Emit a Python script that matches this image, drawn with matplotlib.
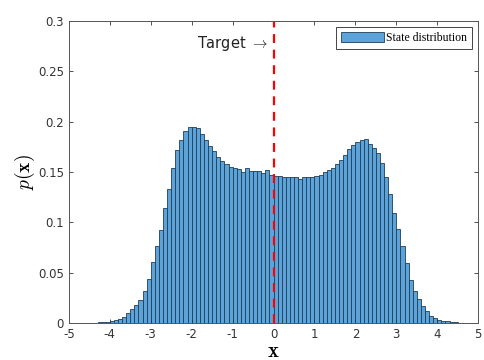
import numpy as np
import matplotlib
matplotlib.use("Agg")
import matplotlib.pyplot as plt

plt.rcParams['axes.unicode_minus'] = False
plt.rcParams['mathtext.fontset'] = 'cm'

# histogram bins: width 0.1 from -5 to 5 (left edges)
bin_edges = np.round(np.arange(-5.0, 5.0001, 0.1), 2)
density = [
    0, 0, 0, 0, 0, 0.0002, 0.0003, 0.0005, 0.0008, 0.0013,
    0.002, 0.0025, 0.0036, 0.0063, 0.0096, 0.0136, 0.018, 0.023, 0.032, 0.044,
    0.061, 0.076, 0.092, 0.114, 0.133, 0.154, 0.172, 0.182, 0.191, 0.195,
    0.195, 0.194, 0.188, 0.182, 0.176, 0.171, 0.165, 0.161, 0.158, 0.155,
    0.154, 0.153, 0.150, 0.154, 0.151, 0.151, 0.151, 0.149, 0.152, 0.147,
    0.146, 0.146, 0.145, 0.145, 0.145, 0.145, 0.143, 0.145, 0.145, 0.145,
    0.146, 0.147, 0.150, 0.152, 0.154, 0.158, 0.162, 0.167, 0.173, 0.177,
    0.180, 0.182, 0.183, 0.178, 0.174, 0.169, 0.159, 0.145, 0.128, 0.109,
    0.093, 0.076, 0.060, 0.043, 0.032, 0.024, 0.017, 0.012, 0.007, 0.005,
    0.003, 0.002, 0.0015, 0.001, 0.0007, 0.0004, 0.0002, 0.0001, 0, 0,
]
target = 0.0

xticks = list(range(-5, 6))
yticks = [0, 0.05, 0.1, 0.15, 0.2, 0.25, 0.3]
ytick_labels = ['0', '0.05', '0.1', '0.15', '0.2', '0.25', '0.3']

fig = plt.figure(figsize=(4.85, 3.6), dpi=100)
ax = fig.add_axes([0.142, 0.103, 0.844, 0.839])

ax.bar(bin_edges[:-1], density, width=0.1, align='edge',
       color='#5ba3d8', edgecolor='#1f3f58', linewidth=0.6,
       label='State distribution')
ax.axvline(target, color='#ff0000', linestyle=(0, (4, 3)), linewidth=1.6)
ax.text(target - 0.15, 0.278, r'Target $\rightarrow$', ha='right', va='center',
        fontsize=10.5, color='#222222')

ax.set_xlim(-5, 5)
ax.set_ylim(0, 0.3)
ax.set_xticks(xticks)
ax.set_xticklabels([str(t) for t in xticks])
ax.set_yticks(yticks)
ax.set_yticklabels(ytick_labels)
ax.tick_params(direction='in', top=True, right=True, labelsize=8.5,
               colors='#333333', length=3, width=0.6)
for s in ax.spines.values():
    s.set_color('#555555')
    s.set_linewidth(0.7)

ax.set_xlabel(r'$\mathbf{x}$', fontsize=15, labelpad=0)
ax.set_ylabel(r'$p(\mathbf{x})$', fontsize=14, labelpad=1)

leg = ax.legend(loc='upper right', prop={'family': 'Liberation Serif', 'size': 8.5},
                fancybox=False, edgecolor='#444444', framealpha=1,
                handlelength=3.6, handleheight=0.9, borderpad=0.45,
                handletextpad=0.2, borderaxespad=0.5)
leg.get_frame().set_linewidth(0.7)

fig.savefig('out.png', dpi=100)
